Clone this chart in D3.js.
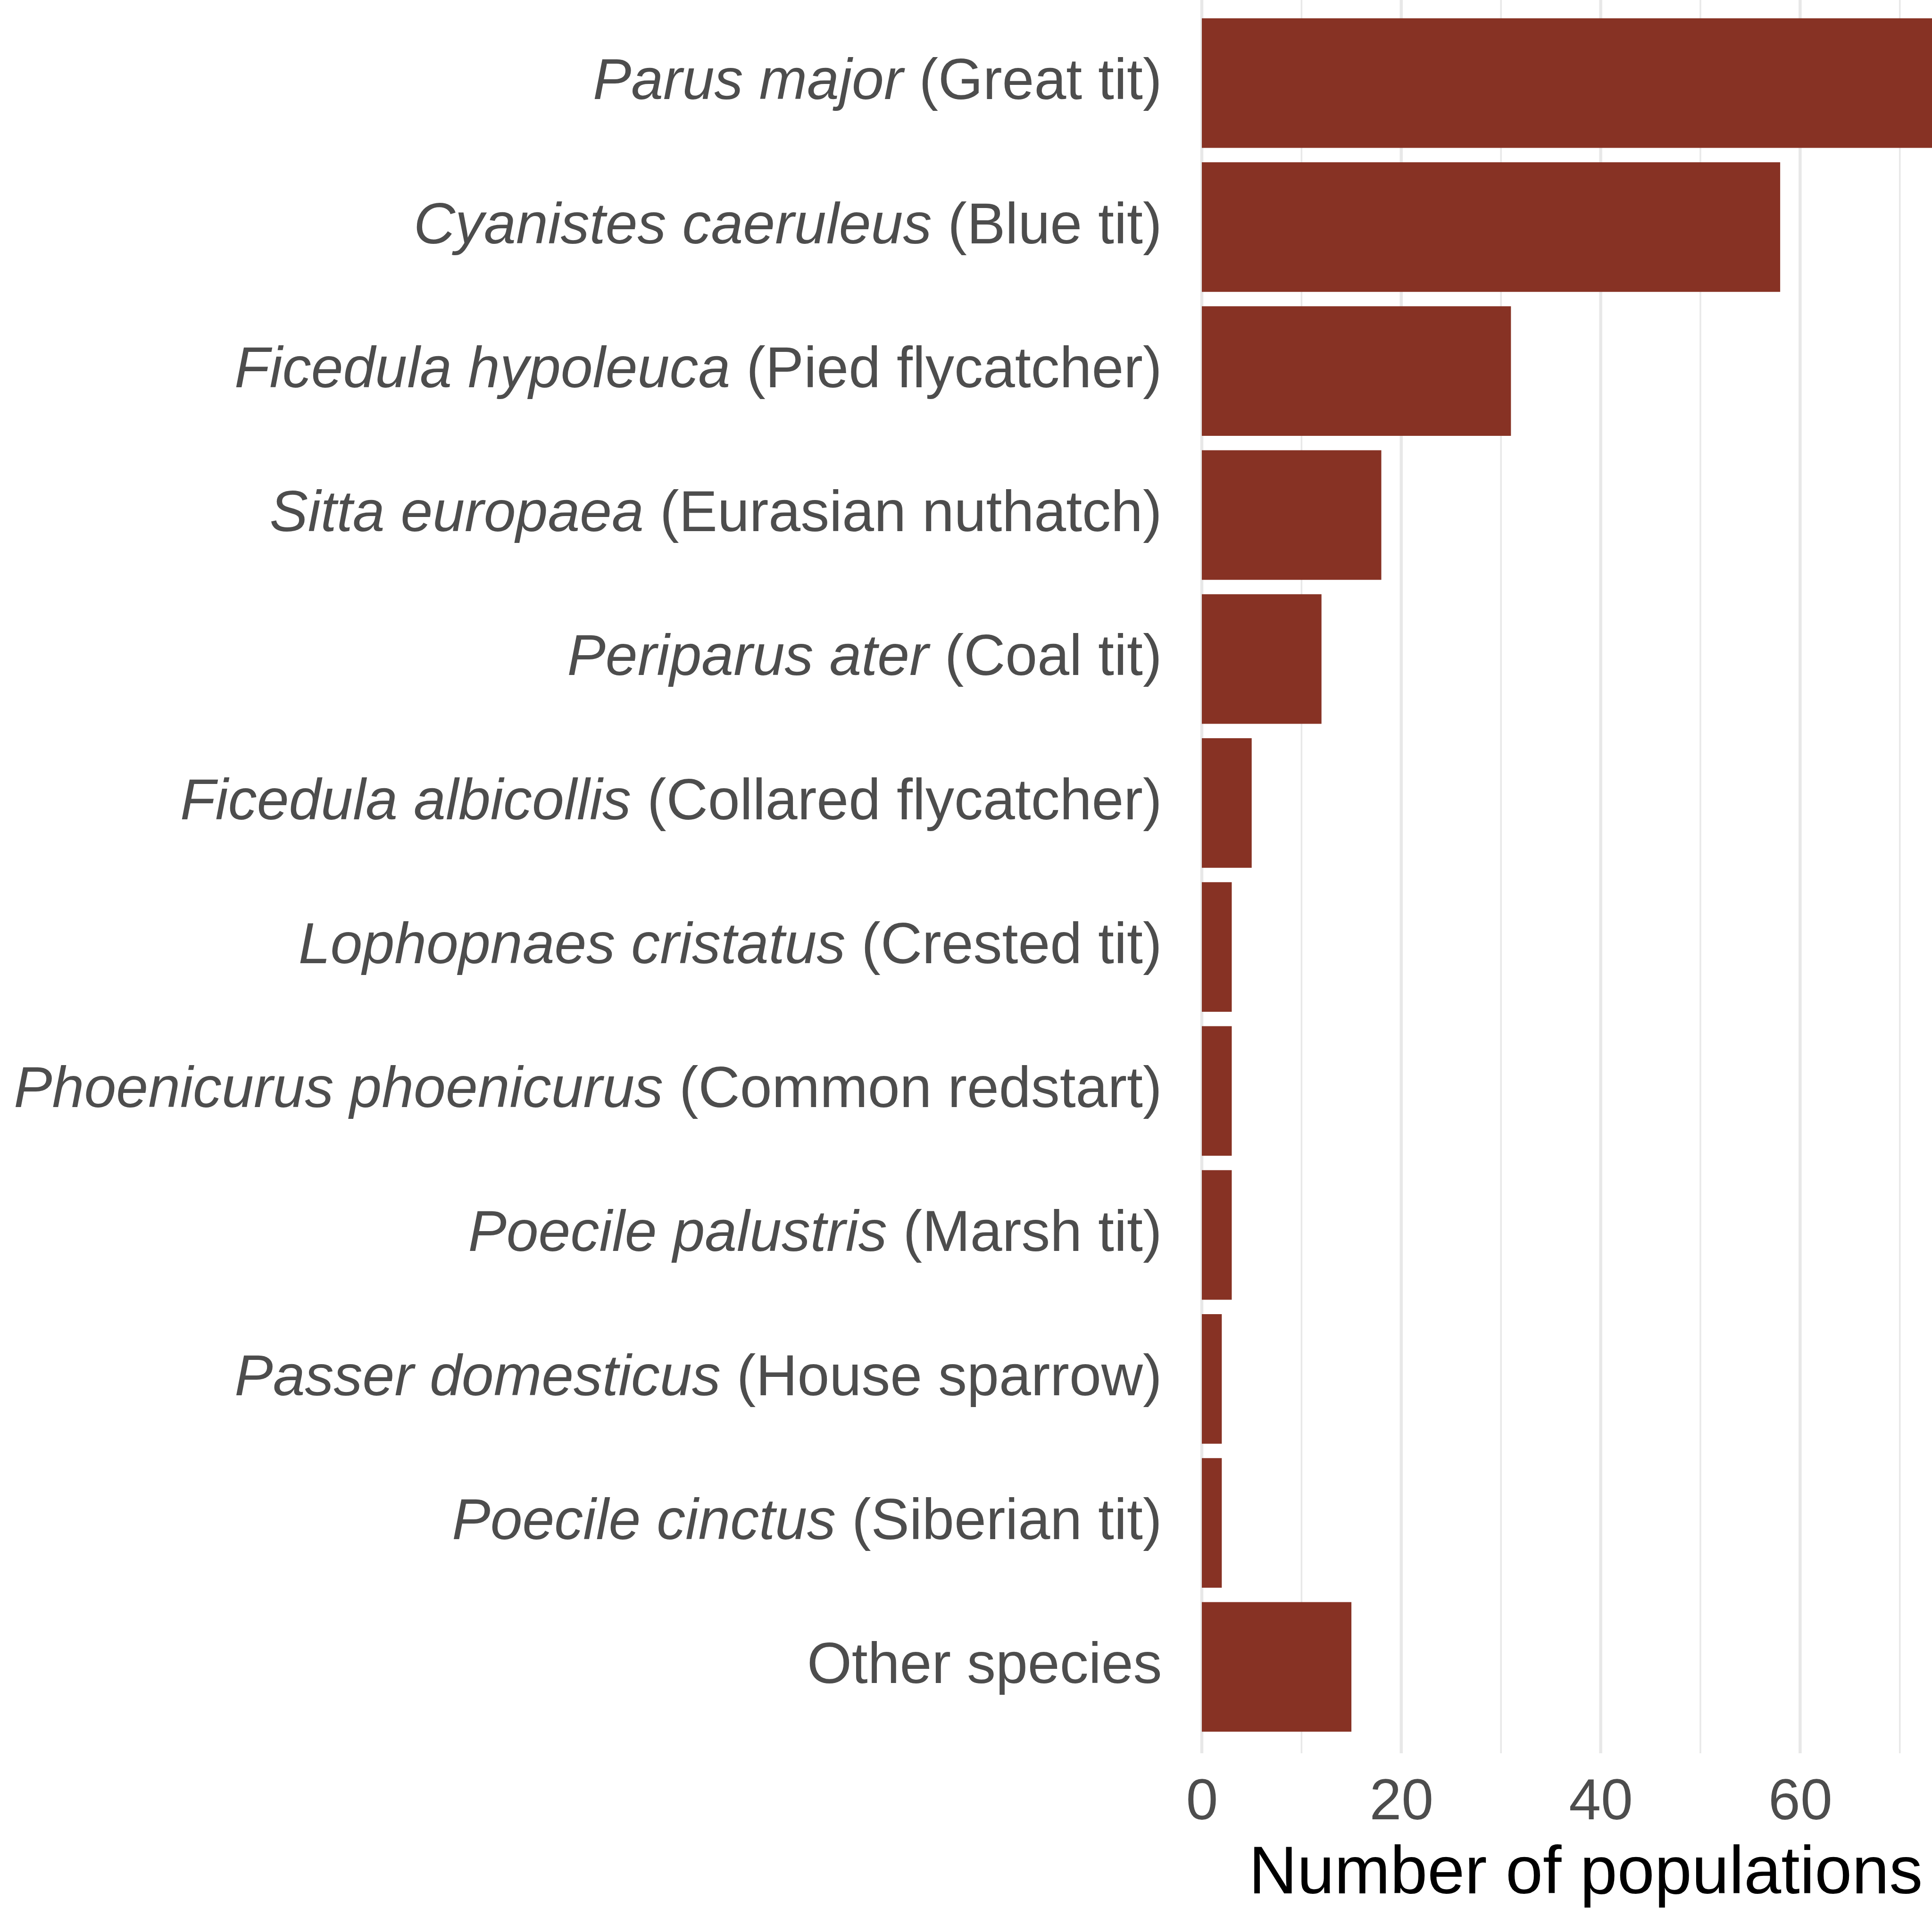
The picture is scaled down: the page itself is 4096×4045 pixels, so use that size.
<!DOCTYPE html>
<html>
<head>
<meta charset="utf-8">
<script src="https://cdn.jsdelivr.net/npm/d3@7"></script>
<style>
  html, body { margin: 0; padding: 0; background: #fff; }
  svg { display: block; }
</style>
</head>
<body>
<div id="chart"></div>
<script>
// species, top to bottom
const sciNames = [
  "Parus major", "Cyanistes caeruleus", "Ficedula hypoleuca", "Sitta europaea",
  "Periparus ater", "Ficedula albicollis", "Lophopnaes cristatus",
  "Phoenicurus phoenicurus", "Poecile palustris", "Passer domesticus",
  "Poecile cinctus", ""
]
const commonNames = [
  "(Great tit)", "(Blue tit)", "(Pied flycatcher)", "(Eurasian nuthatch)",
  "(Coal tit)", "(Collared flycatcher)", "(Crested tit)",
  "(Common redstart)", "(Marsh tit)", "(House sparrow)",
  "(Siberian tit)", "Other species"
]
const populations = [77, 58, 31, 18, 12, 5, 3, 3, 3, 2, 2, 15]
const xTicks = [0, 20, 40, 60]
const xTitle = "Number of populations"

const W = 4096, H = 4045
const font = "'Liberation Sans', Arial, Helvetica, sans-serif"
const barColor = "#873224"

let svg = d3.select("#chart").append("svg")
    .attr("width", W)
    .attr("height", H)
    .style("font-family", font)

let ids = d3.range(populations.length)

// panel box (ggplot default expansion on both axes)
let xMax = d3.max(populations)
let x = d3.scaleLinear()
    .domain([-0.05 * xMax, 1.05 * xMax])
    .range([2466.6, 2466.6 + 84.7 * 21.14])

let y = d3.scaleBand()
    .domain(ids)
    .range([-7 , 3717])
    .paddingInner(0.1)
    .paddingOuter(0.15)

let panelTop = y.range()[0], panelBottom = y.range()[1]

// grid lines, minor then major
let minor = d3.range(10, 90, 20)
let major = d3.range(0, 90, 20)
svg.append("g").selectAll("line").data(minor).enter().append("line")
    .attr("x1", d => x(d)).attr("x2", d => x(d))
    .attr("y1", panelTop).attr("y2", panelBottom)
    .attr("stroke", "#e8e8e8")
    .attr("stroke-width", 3.5)
svg.append("g").selectAll("line").data(major).enter().append("line")
    .attr("x1", d => x(d)).attr("x2", d => x(d))
    .attr("y1", panelTop).attr("y2", panelBottom)
    .attr("stroke", "#e8e8e8")
    .attr("stroke-width", 6.5)

// bars
svg.append("g").selectAll("rect").data(ids).enter().append("rect")
    .attr("x", x(0))
    .attr("y", i => y(i))
    .attr("width", i => x(populations[i]) - x(0))
    .attr("height", y.bandwidth())
    .attr("fill", barColor)

// y labels: italic latin name + common name
let labelSize = 122
let lab = svg.append("g").selectAll("text").data(ids).enter().append("text")
    .attr("x", x.range()[0] - 3)
    .attr("y", i => y(i) + y.bandwidth() / 2)
    .attr("dy", "0.28em")
    .attr("text-anchor", "end")
    .attr("font-size", labelSize)
    .attr("fill", "#4d4d4d")
lab.each(function (i) {
    let t = d3.select(this)
    if (sciNames[i] !== "") {
        t.append("tspan").attr("font-style", "italic").text(sciNames[i])
        t.append("tspan").text(" " + commonNames[i])
    } else {
        t.append("tspan").text(commonNames[i])
    }
})

// x axis tick labels
let xAxis = d3.axisBottom(x).tickValues(xTicks).tickSize(0).tickPadding(0)
let gx = svg.append("g")
    .attr("transform", `translate(0, ${panelBottom})`)
    .call(xAxis)
gx.select(".domain").remove()
gx.selectAll("text")
    .attr("y", 0)
    .attr("dy", 0)
    .attr("transform", `translate(0, ${3857 - panelBottom})`)
    .attr("font-size", 122)
    .attr("font-family", font)
    .attr("fill", "#4d4d4d")

// x title, centred on panel
svg.append("text")
    .attr("x", (x.range()[0] + x.range()[1]) / 2)
    .attr("y", 4014)
    .attr("text-anchor", "middle")
    .attr("font-size", 142)
    .attr("fill", "#000")
    .text(xTitle)
</script>
</body>
</html>
